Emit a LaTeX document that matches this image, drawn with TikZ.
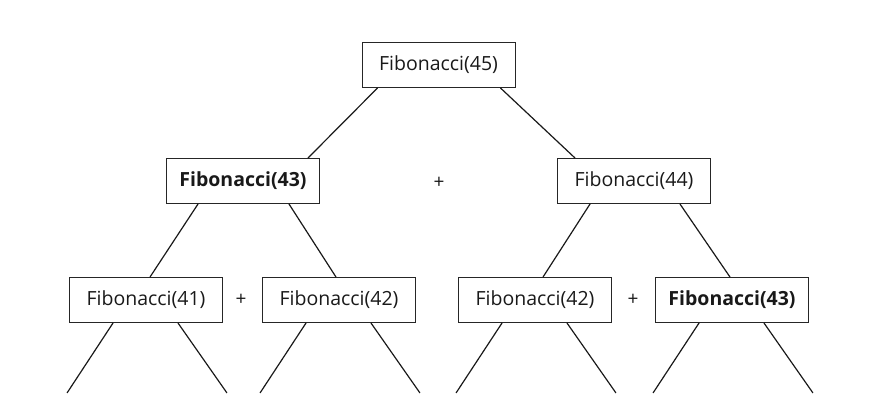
\documentclass[tikz,border=0pt]{standalone}
\usepackage{fontspec}
\setmainfont{Open Sans}
\usetikzlibrary{calc}
\begin{document}
\begin{tikzpicture}[x=1pt,y=-1pt,
  fib/.style={draw=black!85,line width=0.9pt,minimum width=153pt,minimum height=45pt,
    inner sep=0pt,font=\fontsize{19.5}{22}\selectfont,text=black!90},
  fibb/.style={fib,font=\fontsize{19.5}{22}\selectfont\bfseries},
  plus/.style={font=\fontsize{19}{21}\selectfont,text=black!90},
  edge/.style={line width=1.2pt,black!90}]
\useasboundingbox (0,0) rectangle (876,404);
% level 0
\node[fib] (f45) at (438.5,65) {Fibonacci(45)};
% level 1
\node[fibb] (f43a) at (243,181) {Fibonacci(43)};
\node[plus] (p1) at (439,183) {+};
\node[fib] (f44) at (634,181) {Fibonacci(44)};
% level 2
\node[fib] (f41) at (146,300) {Fibonacci(41)};
\node[plus] (p2) at (241,300) {+};
\node[fib] (f42a) at (339,300) {Fibonacci(42)};
\node[fib] (f42b) at (535,300) {Fibonacci(42)};
\node[plus] (p3) at (633,300) {+};
\node[fibb] (f43b) at (732,300) {Fibonacci(43)};
% edges between levels
\draw[edge] ($(f45.south west)+(16,0)$) -- ($(f43a.north east)+(-12,0)$);
\draw[edge] ($(f45.south east)+(-15,0)$) -- ($(f44.north west)+(18,0)$);
\draw[edge] ($(f43a.south west)+(32,0)$) -- ($(f41.north)+(4,0)$);
\draw[edge] ($(f43a.south east)+(-31,0)$) -- ($(f42a.north)+(-3,0)$);
\draw[edge] ($(f44.south west)+(33,0)$) -- ($(f42b.north)+(8,0)$);
\draw[edge] ($(f44.south east)+(-31,0)$) -- ($(f43b.north)+(-2,0)$);
% open branches below the last level
\foreach \n in {f41,f42a,f42b,f43b}{
  \coordinate (\n-l) at ($(\n.south west)+(-2,70)$);
  \coordinate (\n-r) at ($(\n.south east)+(4,70)$);
  \draw[edge] ($(\n.south west)+(44,0)$) -- (\n-l);
  \draw[edge] ($(\n.south east)+(-45,0)$) -- (\n-r);
}
\end{tikzpicture}
\end{document}
